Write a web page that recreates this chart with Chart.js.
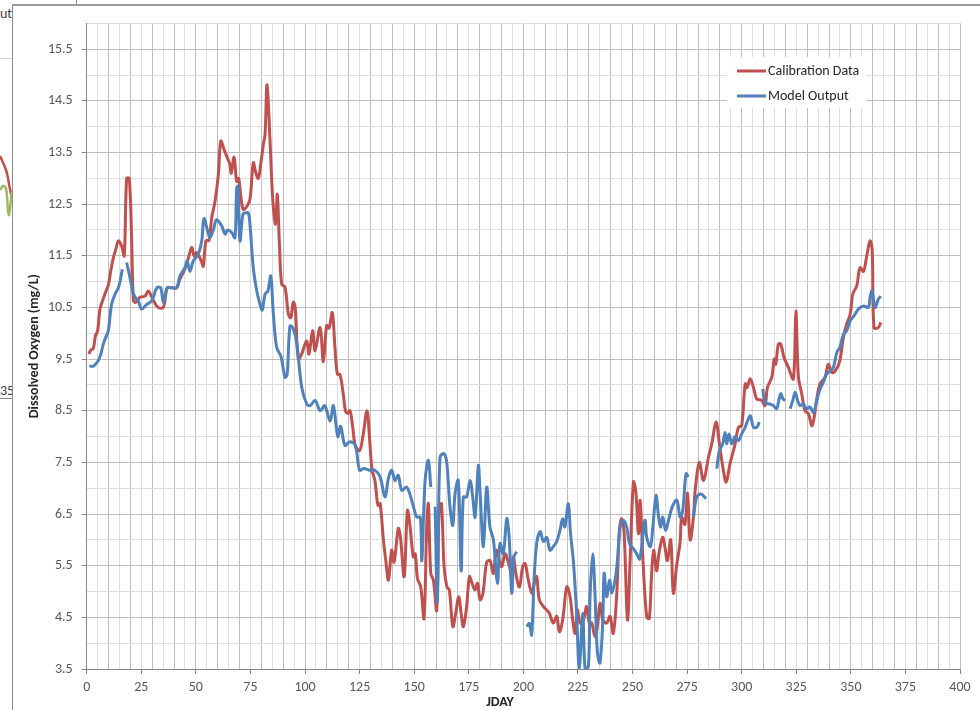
<!DOCTYPE html>
<html>
<head>
<meta charset="utf-8">
<script src="https://cdn.jsdelivr.net/npm/chart.js@4.4.1/dist/chart.umd.min.js"></script>
<style>
  html, body { margin:0; padding:0; background:#fff; width:980px; height:710px; overflow:hidden; }
  body { position:relative; font-family: Carlito, Calibri, Lato, "Open Sans", sans-serif; }
  #box { position:absolute; left:13px; top:6px; width:967px; height:704px; }
  #frag { position:absolute; left:0; top:130px; width:12px; height:100px; }
  .ln { position:absolute; }
  .txt { position:absolute; font-size:14px; color:#404040; white-space:nowrap; }
</style>
</head>
<body>
<!-- fragments of the neighbouring window / chart frame -->
<div class="ln" style="left:76px;top:0;width:1px;height:5px;background:#8a8a8a"></div>
<div class="ln" style="left:12px;top:4px;width:968px;height:2px;background:#9a9a9a"></div>
<div class="ln" style="left:12px;top:5px;width:1px;height:705px;background:#8a8a8a"></div>
<div class="ln" style="left:0;top:58px;width:12px;height:1px;background:#cfcfcf"></div>
<div class="ln" style="left:0;top:398px;width:12px;height:1px;background:#8a8a8a"></div>
<div class="txt" style="left:-30px;top:5px;width:42px;overflow:hidden;text-align:right">Output</div>
<div class="txt" style="left:0;top:382px;width:12px;overflow:hidden;">35</div>
<div id="frag"><canvas id="f" width="12" height="100"></canvas></div>
<div id="box"><canvas id="c" width="967" height="704"></canvas></div>
<script>
// ---------------- data ----------------
const xTickLabels = [0, 25, 50, 75, 100, 125, 150, 175, 200, 225, 250, 275, 300, 325, 350, 375, 400];
const yTickLabels = [3.5, 4.5, 5.5, 6.5, 7.5, 8.5, 9.5, 10.5, 11.5, 12.5, 13.5, 14.5, 15.5];

const calDays = [
  1,2,3,4,5,6,7,8.5,10,11,12.2,13.5,14.5,16,17.2,18.3,19.5,20.6,21.4,22.5,24.4,26.7,28.2,29.8,31,32.8,35.1,36.9,39,41.2,
  42.7,44.5,45.8,48.1,49.2,50.4,52.5,53.4,54.6,56,57.3,58.8,60.3,61.4,63,64.1,65.6,66.2,67.5,68.7,69.6,70.7,71.7,73.3,74.8,
  76.3,77.5,78.6,79.8,80.9,81.7,82.6,84,85.2,86.5,87.3,88.3,89.3,90.8,92.4,93.5,94.6,95.5,96.9,98.5,99.5,100.8,101.8,103.5,
  104.6,106.9,108.4,109.9,111,112.5,113.7,114.8,116,117.5,118.5,119.5,120.6,121.8,123,125,126.5,128.4,129.5,130.7,132,133.4,
  134.4,135.9,137,138.2,139.7,140.8,142.7,143.7,145.4,146.9,148,149.6,150.5,151.5,153,154.5,155.7,156.5,157.6,158.8,160.3,
  161.5,162.5,163.7,165,166.1,167.7,169,170.4,171.5,172.5,174,175.3,176.5,177.9,179,180.2,181.5,183.2,184.7,186.3,187.5,
  188.6,190.1,191.6,193.1,194.6,195.4,196.8,198.2,199.7,200.8,202.3,203.9,205,206.1,207.3,209.2,210.7,211.9,213.7,215.3,
  216.5,218,219.9,221.4,222.6,223.7,224.8,226,227.5,229,230.2,231.3,232.8,233.9,235.1,236.4,238.2,239.7,241.2,242.8,244,
  245.1,246.2,247.7,248.9,250.4,251.5,252.7,253.5,254.8,256.5,257.7,258.7,259.7,261,262.1,263.8,264.8,266,267.5,268.7,
  270.2,271.8,272.5,274,275.2,276.4,277.9,278.7,280.6,282.5,284.8,286.3,288.3,289.8,291.6,292.9,294.7,297,298.5,300,
  301.6,302.5,303.9,305.4,306.9,309.2,310.7,311.8,313.8,314.9,315.6,316.8,317.9,319.4,321.4,323.7,324.8,326,327.5,329,
  330.6,332.1,333.2,334.4,335.9,338.2,339.7,341.3,342.8,344.8,346.6,348.1,349.7,350.9,352.7,354.2,355.8,357,358.8,359.8,
  360.6,362.6,363.7
];
const calDO = [
  9.6,9.68,9.7,9.95,10.05,10.45,10.6,10.78,10.95,11.2,11.46,11.65,11.79,11.69,11.5,13.0,13.0,11.79,10.63,10.6,10.7,10.72,10.82,10.7,10.6,10.5,10.5,10.88,10.88,10.88,
  11.05,11.2,11.34,11.66,11.5,11.56,11.4,11.3,11.79,11.8,12.24,12.56,13.07,13.72,13.55,13.43,13.27,13.1,13.41,12.94,13.0,12.62,12.4,12.45,12.6,
  13.3,13.1,13.0,13.3,13.65,13.85,14.81,13.7,12.6,12.11,12.69,11.7,10.95,10.9,10.37,10.3,10.6,10.5,9.5,9.6,9.73,9.85,9.6,10.05,
  9.66,10.11,9.45,10.15,10.1,10.4,9.73,9.21,9.2,8.83,8.5,8.45,8.5,8.2,7.83,7.73,8.0,8.5,8.0,7.35,7.15,6.67,
  6.7,6.0,5.6,5.22,5.8,5.57,6.22,6.05,5.29,6.57,6.3,5.67,5.73,5.25,5.09,4.48,6.19,6.7,5.35,5.22,4.64,
  6.67,6.7,5.48,5.09,5.03,4.32,4.58,4.9,4.58,4.32,4.7,5.29,5.16,5.03,5.16,4.84,4.97,5.57,5.6,5.35,5.8,
  5.67,5.48,5.73,5.57,5.35,5.67,5.29,5.09,5.48,5.54,5.22,4.97,5.16,5.29,4.84,4.71,4.64,4.58,4.39,4.52,
  4.22,4.45,5.09,4.9,4.45,4.19,4.64,4.39,4.45,4.71,4.39,4.39,4.13,4.32,4.77,4.45,4.39,4.52,4.19,4.97,6.19,
  6.41,6.1,4.45,5.6,7.12,6.95,6.12,6.76,5.6,4.51,4.48,5.3,5.8,5.4,5.73,6.05,5.87,5.6,6.0,4.97,
  5.5,5.95,6.44,6.3,6.9,6.0,6.44,6.96,7.5,7.15,7.6,7.86,8.28,7.86,7.35,7.12,7.48,7.86,8.18,8.21,
  9.02,8.95,9.12,8.95,8.73,8.7,8.6,8.95,9.15,9.5,9.4,9.79,9.79,9.53,9.34,9.12,10.43,9.15,8.83,8.5,
  8.44,8.21,8.37,8.73,9.02,9.15,9.4,9.24,9.27,9.44,9.92,10.18,10.37,10.76,10.92,11.27,11.2,11.43,11.79,11.59,
  10.11,10.11,10.21
];

const modelDays = [
  1.2,2.8,4,5.3,6.5,7.6,9,9.9,11.4,13,14.5,15.5,16.3,17.3,18.3,19.8,21.4,22.5,23.6,25.2,27.5,29.8,32.1,33.9,35.1,36.9,39,41.2,
  42.7,45,46,47.3,48.8,51.1,52.7,53.7,55.3,56.5,58,59.5,61.8,63.4,64.5,66.4,67.9,68.7,69.3,70.2,71.5,72.5,74,74.8,76.3,77.9,
  79.4,80.4,81.7,83,84.3,85.5,87,89,90.8,91.8,93.1,94.5,96.2,98.5,100.8,102.3,104.6,107,109,111.5,113,115,116.3,118.3,120.5,
  123,125,127,129.5,132,134.4,136.6,138.2,139.7,141.2,142.7,144.3,146.6,148.9,151.2,152.8,153.5,155,156.5,157.6,158.6,159.6,
  160.6,161.8,163.7,164.9,166.4,167.7,168.7,170.2,171.5,172.5,174,175.6,176.8,177.9,179.4,180.2,181.7,183.2,184.7,186.3,
  188.1,189.3,190.8,192.4,193.5,194.7,195.7,196.9,199,201.6,202.8,203.8,204.9,206.1,207.7,209.2,210.7,212.2,213.7,215.3,
  216.8,218,219,220.6,221.6,222.9,224.4,225.6,227.2,228.3,229.8,230.6,231.8,232.8,233.9,235.1,236.4,237,238.2,239.5,240.5,
  242,243.1,244.3,245.8,247.3,248.6,250.4,251.9,253.3,255,255.8,256.5,258.2,259.3,260.8,261.8,262.8,263.9,265.1,266.5,
  268.2,270.3,271.8,273,274.5,275.6,276.8,277.9,279.4,281.3,283.7,286,288.6,289.8,291.3,292.4,293.1,294.2,295.5,297,
  298.5,300,301.6,303,304,305.4,306.9,308.1,309,309.7,310.7,313,314.5,316,316.8,317.9,318.9,319.9,321,322.2,323.4,324.5,
  325.6,326.7,328.2,329.8,331.3,332.9,334.4,335.9,337.4,338.9,340.5,342,343.6,345,346.6,348.1,349.7,351.5,353.5,355.8,
  358,358.8,359.7,361.1,362.6,363.7
];
const modelDO = [
  9.37,9.36,9.4,9.47,9.6,9.79,9.95,10.05,10.56,10.76,10.88,11.05,11.24,null,11.37,11.08,10.76,10.68,10.63,10.47,10.56,10.63,10.88,10.88,10.6,10.88,10.88,10.88,
  11.11,11.27,11.4,11.2,11.4,11.53,11.79,12.22,12.0,11.85,12.0,12.2,12.08,11.92,12.0,11.95,11.85,12.81,12.85,11.79,12.3,12.33,12.33,12.1,11.27,10.82,
  10.56,10.45,10.76,10.82,11.11,10.37,9.73,9.55,9.15,9.2,10.14,10.1,9.82,8.95,8.63,8.6,8.7,8.5,8.6,8.3,8.6,8.0,8.2,7.83,7.9,
  7.83,7.35,7.38,7.35,7.35,7.22,6.83,7.19,7.35,7.15,7.25,6.96,7.02,6.76,6.44,6.44,5.6,7.15,7.54,7.02,null,6.64,
  4.8,7.6,7.67,7.5,6.64,6.28,6.89,7.15,5.4,6.83,6.83,7.15,6.83,6.44,7.44,6.9,5.87,7.02,6.25,6.0,
  5.16,5.93,5.73,6.41,6.05,4.97,5.67,5.77,null,4.32,4.38,4.16,5.22,5.93,6.16,5.97,6.05,5.8,5.87,5.97,
  6.19,6.41,6.25,6.7,6.13,5.6,4.58,3.5,4.58,3.5,3.55,4.97,5.73,4.97,3.82,3.62,4.45,5.35,4.9,5.22,4.97,
  5.22,5.6,6.25,6.38,6.25,5.93,5.83,5.73,5.63,6.19,6.38,6.05,5.87,6.25,6.86,6.5,6.25,6.44,6.19,6.38,
  6.64,6.77,6.44,6.57,7.28,7.22,null,6.44,6.83,6.89,6.8,null,7.38,7.73,7.86,8.08,7.86,8.05,7.86,8.0,
  7.92,8.05,8.18,8.34,8.4,8.18,8.18,8.28,null,8.92,8.66,8.63,8.6,8.54,8.66,8.83,8.73,8.7,null,8.54,8.7,8.86,
  8.7,8.6,8.63,8.54,8.57,8.47,8.7,8.92,9.05,9.21,9.27,9.34,9.63,9.73,9.98,10.05,10.24,10.34,10.47,10.53,
  10.5,10.69,10.82,10.5,10.66,10.72
];

// the cut-off neighbouring chart at the far left (only its last few points are visible)
const fragX = [0, 3, 6, 8, 9, 11, 12];
const fragRed = [12.98, 12.85, 12.7, 12.54, 12.42, 12.22, 12.14];
const fragGreen = [12.3, 12.38, 12.34, 11.9, 11.8, 12.1, 12.26];

// ---------------- chart ----------------
const RED = '#C0504D', BLUE = '#4F81BD', GREEN = '#9BBB59';
const GRID_MAJOR = '#BEBEBE', GRID_MINOR = '#DEDEDE', AXIS = '#868686';
const FONT = 'Carlito, Calibri, Lato, "Open Sans", sans-serif';

const toPts = (xs, ys) => xs.map((x, i) => ({ x: x, y: ys[i] }));
const isXLabel = v => xTickLabels.some(t => Math.abs(t - v) < 1e-6);
const isYLabel = v => yTickLabels.some(t => Math.abs(t - v) < 1e-6);

const legendPlugin = {
  id: 'boxLegend',
  afterDraw(chart) {
    const ctx = chart.ctx;
    ctx.save();
    ctx.fillStyle = '#ffffff';
    ctx.fillRect(714, 51, 139, 51);
    const items = [['Calibration Data', RED, 65], ['Model Output', BLUE, 90]];
    ctx.font = '14px ' + FONT;
    ctx.textBaseline = 'middle';
    ctx.textAlign = 'left';
    items.forEach(([label, color, y]) => {
      ctx.strokeStyle = color; ctx.lineWidth = 3; ctx.lineCap = 'butt';
      ctx.beginPath(); ctx.moveTo(724, y); ctx.lineTo(753, y); ctx.stroke();
      ctx.fillStyle = '#262626';
      ctx.fillText(label, 755, y);
    });
    // x axis title (offset left of centre as in the original)
    ctx.font = 'bold 14px ' + FONT;
    ctx.fillStyle = '#262626';
    ctx.textAlign = 'center';
    ctx.fillText('JDAY', 487, 696);
    ctx.restore();
  }
};

new Chart(document.getElementById('c'), {
  type: 'line',
  data: {
    datasets: [
      { label: 'Calibration Data', data: toPts(calDays, calDO), borderColor: RED, borderWidth: 3,
        pointRadius: 0, tension: 0.35, spanGaps: false, order: 2, fill: false },
      { label: 'Model Output', data: toPts(modelDays, modelDO), borderColor: BLUE, borderWidth: 3,
        pointRadius: 0, tension: 0.35, spanGaps: false, order: 1, fill: false }
    ]
  },
  options: {
    responsive: false, animation: false, devicePixelRatio: 1,
    layout: { padding: { left: 0, right: 20, top: 15.7, bottom: 0 } },
    plugins: { legend: { display: false }, tooltip: { enabled: false } },
    scales: {
      x: {
        type: 'linear', min: 0, max: 400,
        afterFit: s => { s.height = 41; },
        border: { color: AXIS, width: 1 },
        grid: {
          color: c => (Math.round(c.tick.value) % 10 === 0) ? GRID_MAJOR : GRID_MINOR,
          tickColor: c => isXLabel(c.tick.value) ? AXIS : 'rgba(0,0,0,0)',
          tickLength: 5, drawTicks: true
        },
        ticks: {
          stepSize: 5, autoSkip: false, maxRotation: 0, padding: 5,
          color: '#595959', font: { family: FONT, size: 14 },
          callback: v => isXLabel(v) ? String(v) : ''
        },
        title: { display: false }
      },
      y: {
        type: 'linear', min: 3.5, max: 16,
        afterFit: s => { s.width = 73.7; },
        border: { color: AXIS, width: 1 },
        grid: {
          color: c => isYLabel(c.tick.value) ? GRID_MAJOR : GRID_MINOR,
          tickColor: c => isYLabel(c.tick.value) ? AXIS : 'rgba(0,0,0,0)',
          tickLength: 5, drawTicks: true
        },
        ticks: {
          stepSize: 0.5, autoSkip: false, padding: 9,
          color: '#595959', font: { family: FONT, size: 14 },
          callback: v => isYLabel(v) ? v.toFixed(1) : ''
        },
        title: {
          display: true, text: 'Dissolved Oxygen (mg/L)', color: '#262626',
          font: { family: FONT, size: 14, weight: 'bold' }, padding: { top: 13, bottom: 0 }
        }
      }
    }
  },
  plugins: [legendPlugin]
});

// tiny fragment of the neighbouring chart
new Chart(document.getElementById('f'), {
  type: 'line',
  data: {
    datasets: [
      { data: toPts(fragX, fragRed), borderColor: RED, borderWidth: 2.5, pointRadius: 0, tension: 0.3, order: 2 },
      { data: toPts(fragX, fragGreen), borderColor: GREEN, borderWidth: 2.5, pointRadius: 0, tension: 0.3, order: 1 }
    ]
  },
  options: {
    responsive: false, animation: false, devicePixelRatio: 1,
    layout: { padding: 0 },
    plugins: { legend: { display: false }, tooltip: { enabled: false } },
    scales: {
      x: { type: 'linear', min: 0, max: 12, display: false },
      y: { type: 'linear', min: 11.5, max: 13.5, display: false }
    }
  }
});
</script>
</body>
</html>
